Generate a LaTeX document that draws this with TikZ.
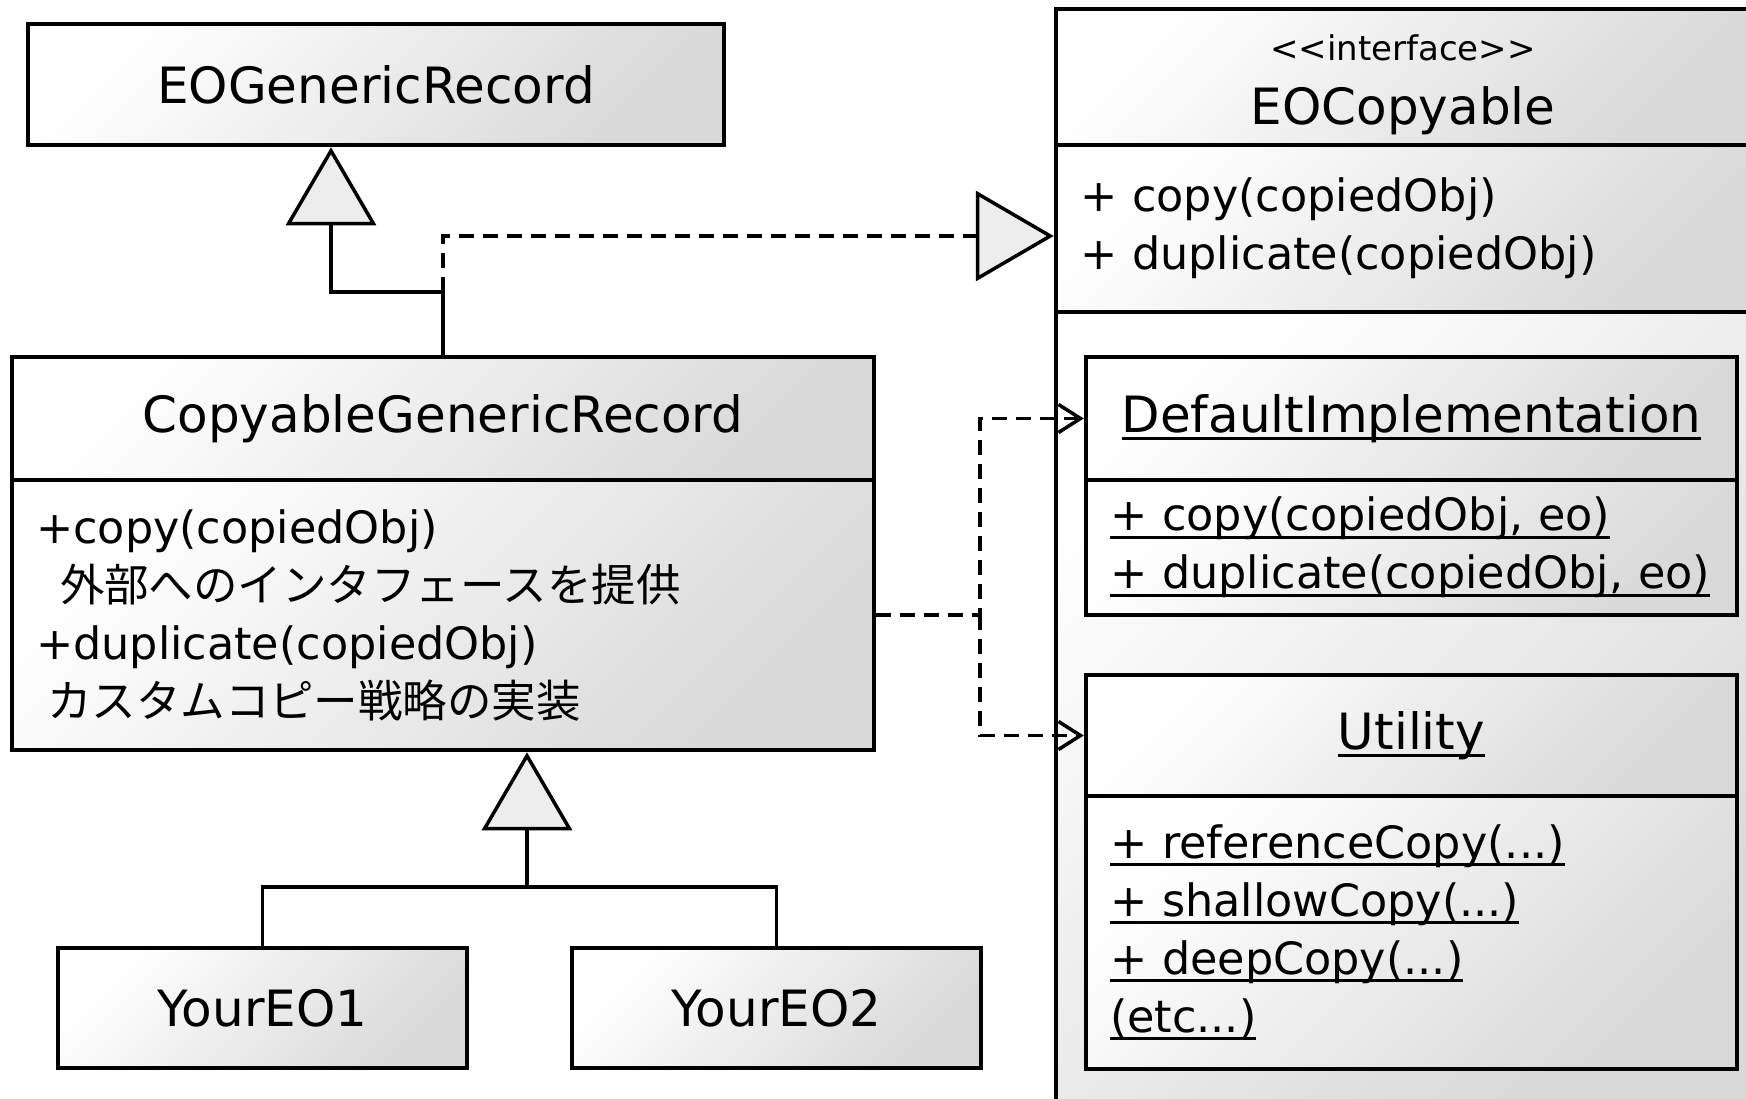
\documentclass[tikz,border=0pt]{standalone}
\usepackage{fontspec}
\setmainfont{DejaVu Sans}
\newfontfamily\jpfont{Noto Sans CJK JP}
\usetikzlibrary{arrows.meta}

\newcommand\titlesize{\fontsize{50}{58}\selectfont}
\newcommand\bodysize{\fontsize{44.5}{58}\selectfont}
\newlength\ulwd
\newcommand\umlul[1]{\leavevmode\settowidth\ulwd{#1}\rlap{\rule[-8pt]{\ulwd}{3pt}}#1}

\tikzset{
  umlbox/.style={draw, line width=4.5pt, top color=white, bottom color=black!15, shading angle=45, inner sep=0pt},
  titlebox/.style={umlbox, font=\titlesize, align=center},
  opsbox/.style={umlbox, font=\bodysize, align=left, inner xsep=24pt},
  genline/.style={line width=3.5pt},
  gen/.style={genline, -{Triangle[length=78pt, width=90pt, fill=black!7]}},
  real/.style={gen, dash pattern=on 15pt off 9pt},
  dep/.style={line width=3.5pt, dash pattern=on 15pt off 9pt, -{Straight Barb[length=22pt, width=28pt]}}
}

\begin{document}
\begin{tikzpicture}[x=1pt, y=-1pt]
    \useasboundingbox (0,0) rectangle (1746,1098);
    \clip (0,0) rectangle (1746,1098);

    % superclass
    \node[titlebox, minimum width=696pt, minimum height=121pt] (eogr) at (376,84.5) {EOGenericRecord};

    % interface
    \node[titlebox, minimum width=694pt, minimum height=136pt] (eoch) at (1403,77)
        {\rule{0pt}{42pt}{\fontsize{34}{40}\selectfont <{}<interface>{}>}\\[6pt]EOCopyable};
    \node[opsbox, minimum width=694pt, minimum height=167pt, text width=646pt] (eocops) at (1403,228.5)
        {+ copy(copiedObj)\\+ duplicate(copiedObj)};
    \node[umlbox, minimum width=694pt, minimum height=798pt] (eocrest) at (1403,711) {};

    % nested classes
    \node[titlebox, minimum width=651pt, minimum height=123pt] (dih) at (1411.5,418.5) {\umlul{DefaultImplementation}};
    \node[opsbox, minimum width=651pt, minimum height=135pt, text width=603pt] (dib) at (1411.5,547.5)
        {\umlul{+ copy(copiedObj, eo)}\\\umlul{+ duplicate(copiedObj, eo)}};
    \node[titlebox, minimum width=651pt, minimum height=121pt] (uth) at (1411.5,735.5) {\umlul{Utility}};
    \node[opsbox, minimum width=651pt, minimum height=273pt, text width=603pt] (utb) at (1411.5,932.5)
        {\umlul{+ referenceCopy(...)}\\\umlul{+ shallowCopy(...)}\\\umlul{+ deepCopy(...)}\\\umlul{(etc...)}};

    % copyable record
    \node[titlebox, minimum width=862pt, minimum height=123pt] (cgrh) at (443,418.5) {CopyableGenericRecord};
    \node[opsbox, minimum width=862pt, minimum height=270pt, text width=814pt] (cgrb) at (443,615)
        {+copy(copiedObj)\\
         {\jpfont\hspace*{24pt}外部へのインタフェースを提供}\\
         +duplicate(copiedObj)\\
         {\jpfont\hspace*{11pt}カスタムコピー戦略の実装}};

    % subclasses
    \node[titlebox, minimum width=409pt, minimum height=120pt] (eo1) at (262.5,1008) {YourEO1};
    \node[titlebox, minimum width=409pt, minimum height=120pt] (eo2) at (776.5,1008) {YourEO2};

    % connectors
    \coordinate (up) at (331,292);
    \coordinate (bus) at (527,887);
    \coordinate (fork) at (980,615);

    \draw[gen] (cgrh.north) |- (up) -- (up |- eogr.south);
    \draw[real] (cgrh.north |- up) |- ([yshift=-7.5pt]eocops.west);
    \draw[genline] (eo1.north) |- (bus) -| (eo2.north);
    \draw[gen] (bus) -- (bus |- cgrb.south);
    \draw[dep] (cgrb.east) -- (fork) |- (dih.west);
    \draw[dep] (fork) |- (uth.west);
\end{tikzpicture}
\end{document}
